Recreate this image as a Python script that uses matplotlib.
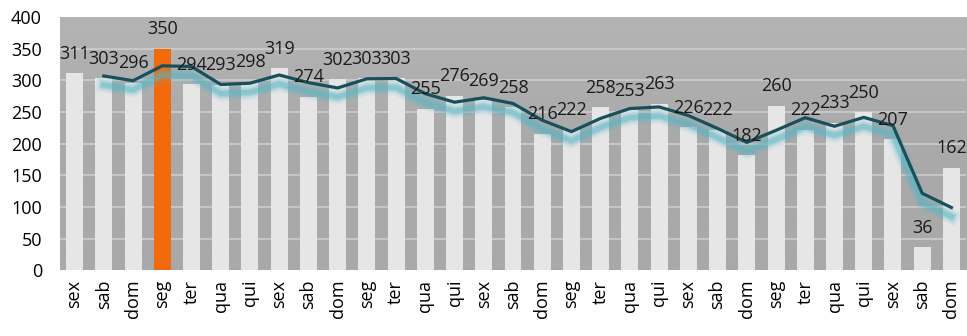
import numpy as np
import pandas as pd
import matplotlib
matplotlib.use("Agg")
import matplotlib.pyplot as plt
import matplotlib.patheffects as pe

days = ["sex", "sab", "dom", "seg", "ter", "qua", "qui",
        "sex", "sab", "dom", "seg", "ter", "qua", "qui",
        "sex", "sab", "dom", "seg", "ter", "qua", "qui",
        "sex", "sab", "dom", "seg", "ter", "qua", "qui",
        "sex", "sab", "dom"]
counts = [311, 303, 296, 350, 294, 293, 298,
          319, 274, 302, 303, 303, 255, 276,
          269, 258, 216, 222, 258, 253, 263,
          226, 222, 182, 260, 222, 233, 250,
          207, 36, 162]
highlight_index = 3
y_ticks = [0, 50, 100, 150, 200, 250, 300, 350, 400]

plt.rcParams['font.family'] = ['Open Sans', 'DejaVu Sans']
FS = 13

fig = plt.figure(figsize=(9.67, 3.36), dpi=100)
ax = fig.add_axes([0.062, 0.196, 0.937, 0.753])

x = np.arange(len(days))
ax.set_xlim(-0.5, len(days) - 0.5)
ax.set_ylim(0, 400)

# shaded background, slightly lighter towards the top
grad = np.linspace(0.0, 1.0, 256).reshape(-1, 1)
bg = matplotlib.colors.LinearSegmentedColormap.from_list(
    "bg", ["#a9a9a9", "#a9a9a9", "#b4b4b4"])
ax.imshow(grad, aspect="auto", cmap=bg, origin="lower",
          extent=(-0.5, len(days) - 0.5, 0, 400), zorder=0)

for t in y_ticks[1:-1]:
    ax.axhline(t, color="#cdcdcd", lw=1.2, zorder=1)

colors = ["#e6e6e6"] * len(days)
colors[highlight_index] = "#f36a0c"
ax.bar(x, counts, width=0.58, color=colors, zorder=2)

for xi, v in zip(x, counts):
    ax.annotate(str(v), (xi, v), xytext=(0, 14), textcoords="offset points",
                ha="center", va="center", fontsize=FS, color="#1a1a1a",
                zorder=5)

# two-period moving average with a soft glow underneath
ma = pd.Series(counts).rolling(2).mean()
glow = []
for w, a in [(11, 0.10), (8, 0.16), (5.5, 0.25), (3.5, 0.35)]:
    glow.append(pe.SimpleLineShadow(offset=(0, -6.5), shadow_color="#58b6c6",
                                    alpha=a, linewidth=w))
glow.append(pe.Normal())
ax.plot(x[1:], ma[1:], color="#17505c", lw=2.3, zorder=4,
        path_effects=glow, solid_joinstyle="miter")

ax.set_xticks(x)
ax.set_xticklabels(days, rotation=90, fontsize=FS)
ax.set_yticks(y_ticks)
ax.set_yticklabels([str(t) for t in y_ticks], fontsize=FS)
ax.tick_params(length=0, pad=7)
ax.tick_params(axis="y", pad=13)
for s in ax.spines.values():
    s.set_visible(False)

fig.savefig("out.png", dpi=100)
